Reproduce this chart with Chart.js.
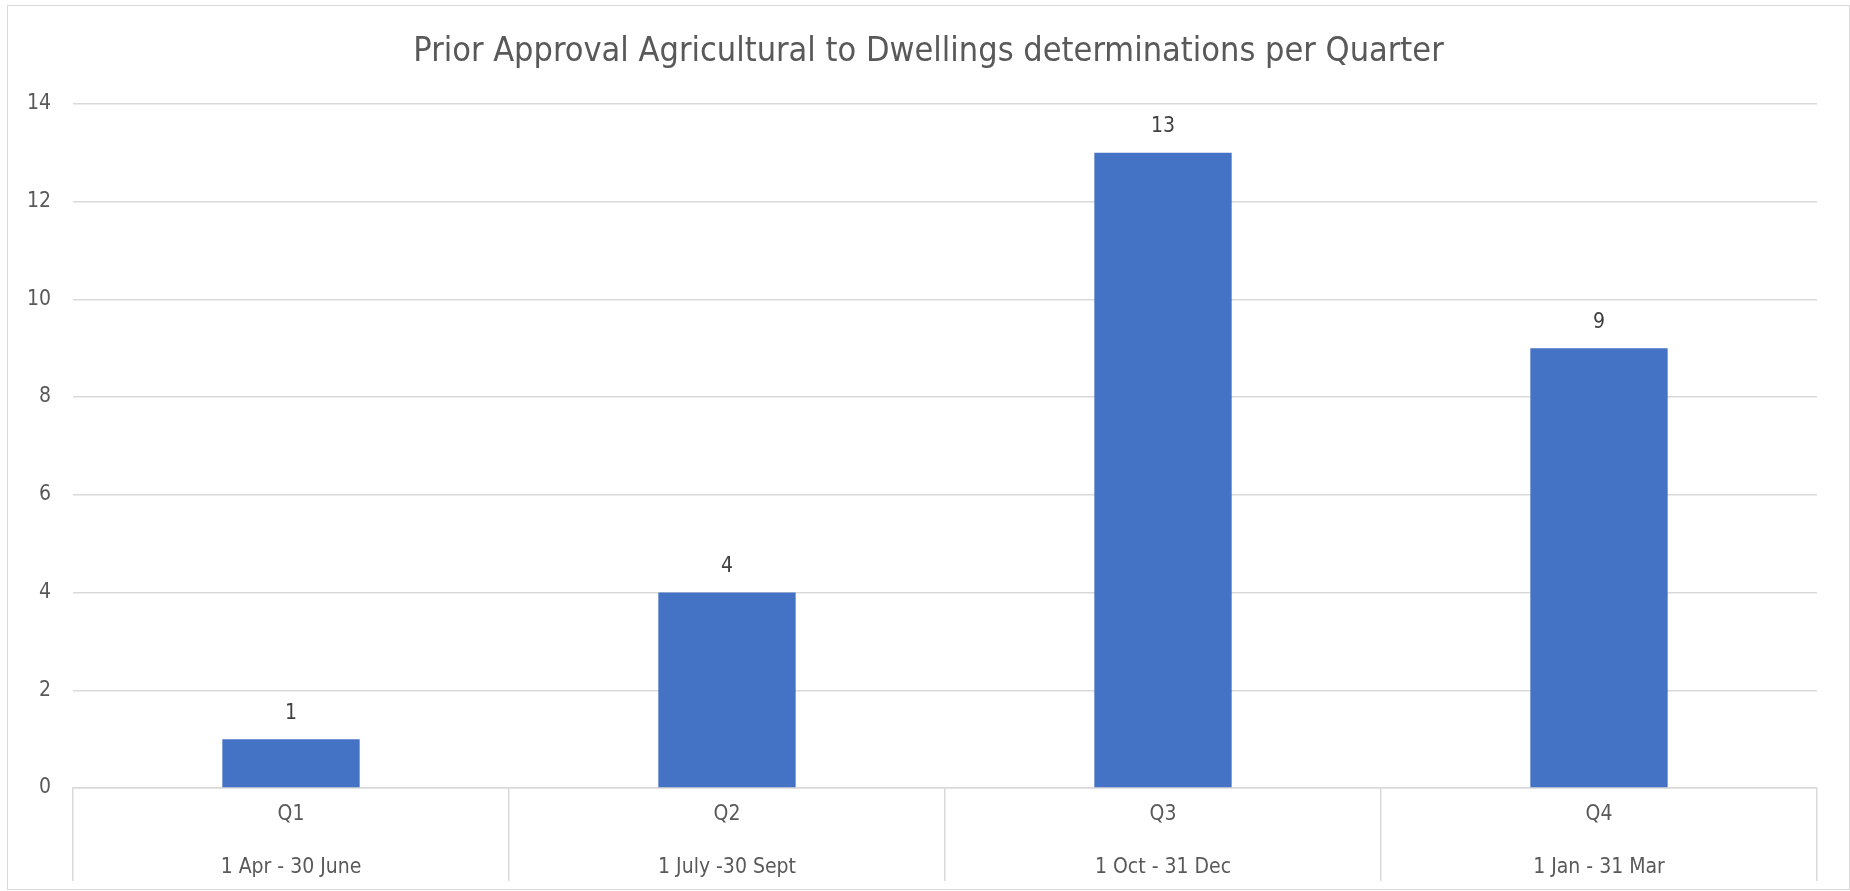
<!DOCTYPE html>
<html>
<head>
<meta charset="utf-8">
<script src="https://cdn.jsdelivr.net/npm/chart.js@4"></script>
<style>
  html, body { margin: 0; padding: 0; background: #fff; }
  #frame {
    position: absolute;
    left: 7px;
    top: 5px;
    width: 1841px;
    height: 883px;
    border: 1px solid #d9d9d9;
  }
</style>
</head>
<body>
<div id="frame"><canvas id="quarterChart"></canvas></div>
<script>
// chart data
const chartTitle = "Prior Approval Agricultural to Dwellings determinations per Quarter";
const quarters = ["Q1", "Q2", "Q3", "Q4"];
const periods = ["1 Apr - 30 June", "1 July -30 Sept", "1 Oct - 31 Dec", "1 Jan - 31 Mar"];
const determinations = [1, 4, 13, 9];
const yMax = 14;
const yStep = 2;

const FONT = "'Liberation Sans Narrow', 'DejaVu Sans Condensed', 'Roboto Condensed', sans-serif";
const TEXT = "#595959";
const GRID = "#d9d9d9";

// draws the value above each bar
const valueLabels = {
    id: "valueLabels",
    afterDatasetsDraw(chart) {
        const ctx = chart.ctx;
        const meta = chart.getDatasetMeta(0);
        ctx.save();
        ctx.font = "21px " + FONT;
        ctx.fillStyle = "#404040";
        ctx.textAlign = "center";
        ctx.textBaseline = "middle";
        meta.data.forEach(function (bar, i) {
            ctx.fillText(String(determinations[i]), bar.x, bar.y - 26);
        });
        ctx.restore();
    }
};

const ctx = document.getElementById("quarterChart").getContext("2d");

new Chart(ctx, {
    type: "bar",
    data: {
        labels: quarters.map((q, i) => [q, periods[i]]),
        datasets: [{
            label: "Determinations",
            data: determinations,
            backgroundColor: "#4472c4",
            borderWidth: 0,
            categoryPercentage: 1,
            barPercentage: 0.315
        }]
    },
    options: {
        responsive: true,
        maintainAspectRatio: false,
        animation: false,
        layout: {
            padding: 0
        },
        plugins: {
            legend: { display: false },
            tooltip: { enabled: false },
            title: {
                display: true,
                text: chartTitle,
                color: TEXT,
                font: { family: FONT, size: 34, weight: "normal" },
                padding: { top: 26, bottom: 31 }
            }
        },
        scales: {
            x: {
                offset: true,
                border: { display: true, color: GRID, width: 1.5 },
                grid: {
                    color: GRID,
                    lineWidth: 1.5,
                    drawOnChartArea: false,
                    drawTicks: true,
                    tickLength: 93,
                    offset: true
                },
                ticks: {
                    color: TEXT,
                    font: { family: FONT, size: 21, lineHeight: 2.48 },
                    padding: -92,
                    maxRotation: 0
                },
                afterFit: function (scale) { scale.height = 101; }
            },
            y: {
                min: 0,
                max: yMax,
                border: { display: false },
                grid: { color: GRID, lineWidth: 1.5, drawTicks: false },
                ticks: {
                    stepSize: yStep,
                    color: TEXT,
                    font: { family: FONT, size: 21 },
                    padding: 22
                },
                afterFit: function (scale) { scale.width = 65; }
            },
            // empty right-hand axis, only keeps the margin on the right
            yRight: {
                position: "right",
                min: 0,
                max: yMax,
                border: { display: false },
                grid: { display: false, drawTicks: false },
                ticks: { display: false },
                afterFit: function (scale) { scale.width = 32; }
            }
        }
    },
    plugins: [valueLabels]
});
</script>
</body>
</html>
